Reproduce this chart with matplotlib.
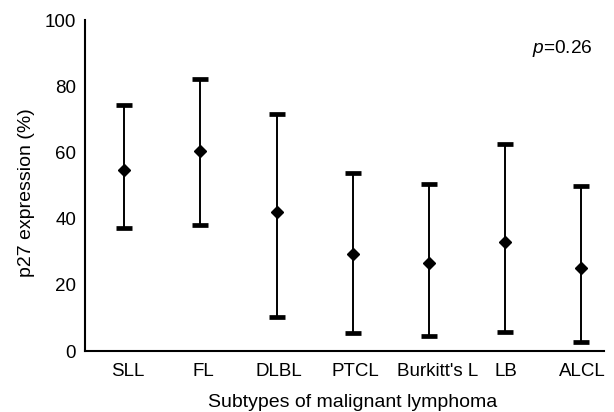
import matplotlib
matplotlib.use("Agg")
import matplotlib.pyplot as plt
import matplotlib.transforms as mtransforms
import numpy as np

plt.rcParams['font.family'] = ['Liberation Sans', 'DejaVu Sans']
plt.rcParams['mathtext.fontset'] = 'custom'
plt.rcParams['mathtext.it'] = 'Liberation Sans:italic'
plt.rcParams['mathtext.rm'] = 'Liberation Sans'

# values
subtypes = ["SLL", "FL", "DLBL", "PTCL", "Burkitt's L", "LB", "ALCL"]
mean_p27 = [54.7, 60.6, 41.9, 29.3, 26.5, 33.0, 25.2]
upper_p27 = [74.3, 82.3, 71.5, 53.9, 50.6, 62.7, 49.9]
lower_p27 = [37.1, 38.1, 10.4, 5.3, 4.5, 5.8, 2.8]
yticks = [0, 20, 40, 60, 80, 100]

x = np.arange(len(subtypes))
mean = np.array(mean_p27)
err = [mean - np.array(lower_p27), np.array(upper_p27) - mean]

fig = plt.figure(figsize=(6.14, 4.12), dpi=100)
ax = fig.add_axes([0.139, 0.148, 0.845, 0.803])

ax.errorbar(x, mean, yerr=err, fmt='D', color='black', markersize=6,
            elinewidth=1.4, capsize=5.8, capthick=3.4)

ax.set_xlim(-0.513, 6.306)
ax.set_ylim(0, 100)
ax.set_yticks(yticks)
ax.set_xticks(x)
ax.set_xticklabels(subtypes)
ax.tick_params(length=0, labelsize=13.5)
ax.tick_params(axis='y', pad=6.7)
ax.tick_params(axis='x', pad=8.5)

# labels in the original sit a little right of the points
shifts = [3, 3, 2, 3, 9, 1, 1]
for lab, dx in zip(ax.get_xticklabels(), shifts):
    lab.set_transform(lab.get_transform() +
                      mtransforms.ScaledTranslation(dx / 100, 0, fig.dpi_scale_trans))

for s in ['top', 'right']:
    ax.spines[s].set_visible(False)
for s in ['left', 'bottom']:
    ax.spines[s].set_linewidth(1.5)

ax.set_ylabel("p27 expression (%)", fontsize=14)
ax.yaxis.set_label_coords(-0.097, 0.4786)
ax.set_xlabel("Subtypes of malignant lymphoma", fontsize=14)
ax.xaxis.label.set_va('baseline')
ax.xaxis.set_label_coords(0.516, -0.1683)

ax.text(5.356, 91.5, r'$p$=0.26', fontsize=13.8, ha='left', va='center')

fig.savefig("out.png", dpi=100)
